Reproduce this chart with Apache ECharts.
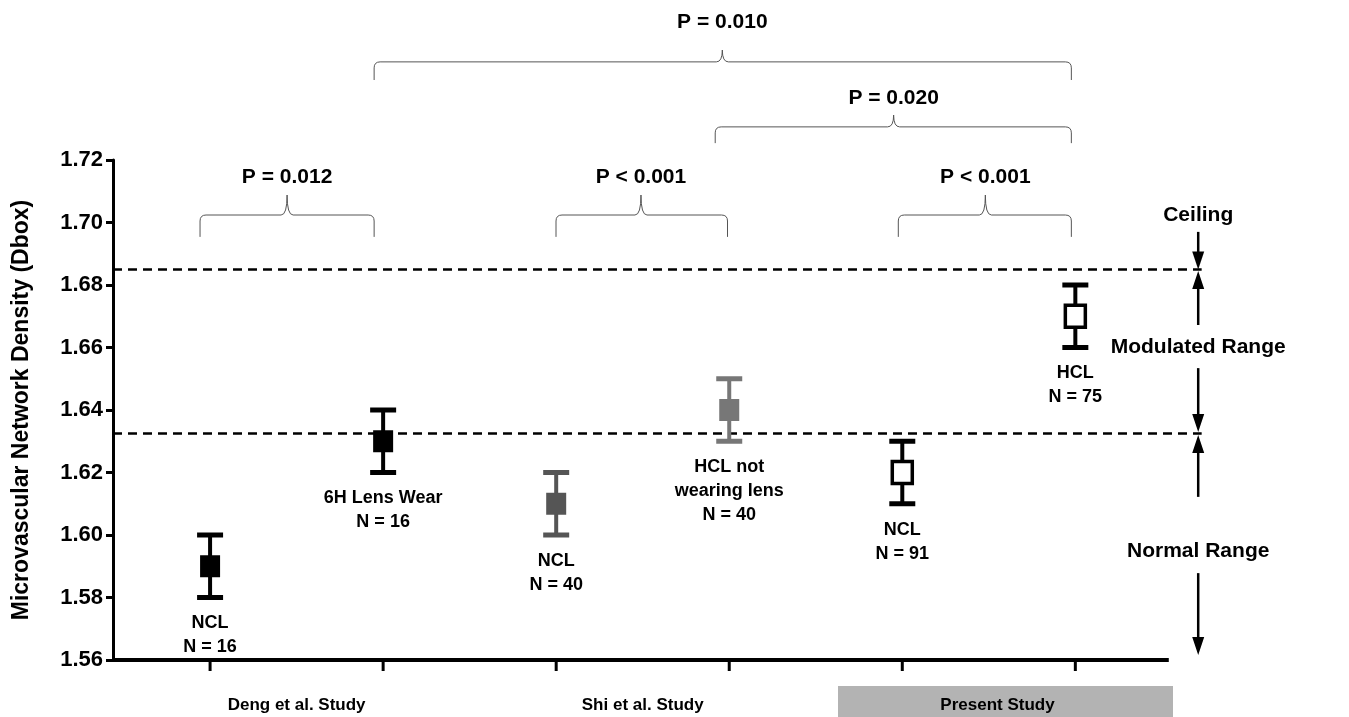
<!DOCTYPE html>
<html><head><meta charset="utf-8">
<script src="https://cdn.jsdelivr.net/npm/echarts@6/dist/echarts.min.js"></script>
<style>html,body{margin:0;background:#fff}#c{width:1349px;height:717px}</style>
</head><body><div id="c"></div>
<script>
const groupX = [1, 2, 3, 4, 5, 6];
const means = [1.59, 1.63, 1.61, 1.64, 1.62, 1.67];
const lows = [1.58, 1.62, 1.60, 1.63, 1.61, 1.66];
const highs = [1.60, 1.64, 1.62, 1.65, 1.63, 1.68];
const pointLabels = ['NCL\nN = 16', '6H Lens Wear\nN = 16', 'NCL\nN = 40', 'HCL not\nwearing lens\nN = 40', 'NCL\nN = 91', 'HCL\nN = 75'];
const fills = ['#000', '#000', '#555', '#777', '#fff', '#fff'];
const studyNames = ['Deng et al. Study', 'Shi et al. Study', 'Present Study'];
const studyCenters = [1.5, 3.5, 5.55];
const yTicks = [1.56, 1.58, 1.60, 1.62, 1.64, 1.66, 1.68, 1.70, 1.72];
const ceilingLine = 1.685, normalLine = 1.6325;
// brackets: [xLeft, xRight, xTip, yEnd, yBar, yTip, yText, text]
const brackets = [
  [0.942, 1.948, 1.445, 1.6954, 1.7024, 1.7088, 1.7146, 'P = 0.012'],
  [2.999, 3.990, 3.49, 1.6954, 1.7024, 1.7088, 1.7146, 'P < 0.001'],
  [4.977, 5.977, 5.48, 1.6954, 1.7024, 1.7088, 1.7146, 'P < 0.001'],
  [3.919, 5.977, 4.95, 1.7254, 1.7306, 1.7344, 1.7398, 'P = 0.020'],
  [1.948, 5.977, 3.96, 1.7456, 1.7514, 1.7552, 1.7642, 'P = 0.010']
];
const F = 'Liberation Sans, Arial, sans-serif';
const chart = echarts.init(document.getElementById('c'));

function arrow(p1, p2) {
  const dir = p2[1] > p1[1] ? 1 : -1;
  return [
    {type: 'line', shape: {x1: p1[0], y1: p1[1], x2: p2[0], y2: p2[1] - dir * 12}, style: {stroke: '#000', lineWidth: 2.5}},
    {type: 'polygon', shape: {points: [[p2[0] - 6, p2[1] - dir * 18], [p2[0] + 6, p2[1] - dir * 18], [p2[0], p2[1]]]}, style: {fill: '#000'}}
  ];
}

chart.setOption({
  animation: false,
  grid: {left: 113, right: 66, top: 160, bottom: 57},
  xAxis: {type: 'value', min: 0.439, max: 7.2, show: false},
  yAxis: {
    type: 'value', min: 1.56, max: 1.72, interval: 0.02,
    name: 'Microvascular Network Density (Dbox)', nameLocation: 'middle', nameGap: 80,
    nameTextStyle: {fontFamily: F, fontWeight: 'bold', fontSize: 23, color: '#000'},
    axisLine: {show: true, lineStyle: {color: '#000', width: 3}},
    axisTick: {show: true, length: 7, lineStyle: {color: '#000', width: 3}},
    axisLabel: {fontFamily: F, fontWeight: 'bold', fontSize: 22, color: '#000', margin: 10, formatter: v => v.toFixed(2)},
    splitLine: {show: false}
  },
  series: [
    {
      type: 'custom', clip: false, z: 3,
      data: groupX.map((x, i) => [x, means[i], lows[i], highs[i], i]),
      renderItem: (params, api) => {
        const i = api.value(4), x = api.value(0);
        const c = api.coord([x, api.value(1)]), lo = api.coord([x, api.value(2)]), hi = api.coord([x, api.value(3)]);
        const open = fills[i] === '#fff';
        const stroke = i === 2 ? '#555' : (i === 3 ? '#777' : '#000');
        return {type: 'group', children: [
          {type: 'line', shape: {x1: c[0], y1: lo[1], x2: c[0], y2: hi[1]}, style: {stroke, lineWidth: 4}},
          {type: 'line', shape: {x1: c[0] - 13, y1: lo[1], x2: c[0] + 13, y2: lo[1]}, style: {stroke, lineWidth: 5}},
          {type: 'line', shape: {x1: c[0] - 13, y1: hi[1], x2: c[0] + 13, y2: hi[1]}, style: {stroke, lineWidth: 5}},
          {type: 'rect', shape: {x: c[0] - 10, y: c[1] - 11, width: 20, height: 22}, style: {fill: fills[i], stroke, lineWidth: open ? 3.5 : 0}},
          {type: 'text', style: {x: c[0], y: lo[1] + 14, text: pointLabels[i], align: 'center', verticalAlign: 'top', font: 'bold 18px ' + F, lineHeight: 24, fill: '#000'}}
        ]};
      }
    },
    {
      type: 'custom', clip: false, z: 2, silent: true,
      data: [[0]],
      renderItem: (params, api) => {
        const ch = [];
        const P = (x, y) => api.coord([x, y]);
        const a0 = P(0.439, 1.56), a1 = P(6.54, 1.56);
        ch.push({type: 'line', shape: {x1: a0[0], y1: a0[1], x2: a1[0], y2: a1[1]}, style: {stroke: '#000', lineWidth: 4}});
        groupX.forEach(x => { const p = P(x, 1.56); ch.push({type: 'line', shape: {x1: p[0], y1: p[1], x2: p[0], y2: p[1] + 11}, style: {stroke: '#000', lineWidth: 3}}); });
        [ceilingLine, normalLine].forEach(v => { const l = P(0.439, v), r = P(6.73, v);
          ch.push({type: 'line', shape: {x1: l[0], y1: l[1], x2: r[0], y2: r[1]}, style: {stroke: '#000', lineWidth: 2.5, lineDash: [9, 6]}}); });
        brackets.forEach(b => {
          const L = P(b[0], b[3]), R = P(b[1], b[3]), bar = P(b[2], b[4])[1], tip = P(b[2], b[5]), t = P(b[2], b[6]);
          const r = 6;
          const path = `M${L[0]} ${L[1]} L${L[0]} ${bar + r} Q${L[0]} ${bar} ${L[0] + r} ${bar} L${tip[0] - r} ${bar} Q${tip[0]} ${bar} ${tip[0]} ${tip[1]} Q${tip[0]} ${bar} ${tip[0] + r} ${bar} L${R[0] - r} ${bar} Q${R[0]} ${bar} ${R[0]} ${bar + r} L${R[0]} ${R[1]}`;
          ch.push({type: 'path', shape: {pathData: path}, style: {stroke: '#555', lineWidth: 1, fill: null}});
          ch.push({type: 'text', style: {x: t[0], y: t[1], text: b[7], align: 'center', verticalAlign: 'middle', font: 'bold 21px ' + F, fill: '#000'}});
        });
        const ax = 6.71;
        const Y = v => P(ax, v);
        ch.push(...arrow(Y(1.697), Y(ceilingLine)));
        ch.push(...arrow(Y(1.6672), Y(ceilingLine - 0.0005)));
        ch.push(...arrow(Y(1.6534), Y(normalLine + 0.0005)));
        ch.push(...arrow(Y(1.6122), Y(normalLine - 0.0005)));
        ch.push(...arrow(Y(1.5878), Y(1.5616)));
        const lab = (v, txt) => { const p = Y(v); ch.push({type: 'text', style: {x: p[0], y: p[1], text: txt, align: 'center', verticalAlign: 'middle', font: 'bold 21px ' + F, fill: '#000'}}); };
        lab(1.7024, 'Ceiling'); lab(1.6602, 'Modulated Range'); lab(1.5949, 'Normal Range');
        const g = P(5.0, 1.56);
        ch.push({type: 'rect', shape: {x: 838, y: g[1] + 26, width: 335, height: 34}, style: {fill: '#b3b3b3'}});
        studyCenters.forEach((x, i) => { const p = P(x, 1.56);
          ch.push({type: 'text', style: {x: p[0], y: p[1] + 45, text: studyNames[i], align: 'center', verticalAlign: 'middle', font: 'bold 17px ' + F, fill: '#000'}}); });
        return {type: 'group', children: ch};
      }
    }
  ]
});
</script></body></html>
